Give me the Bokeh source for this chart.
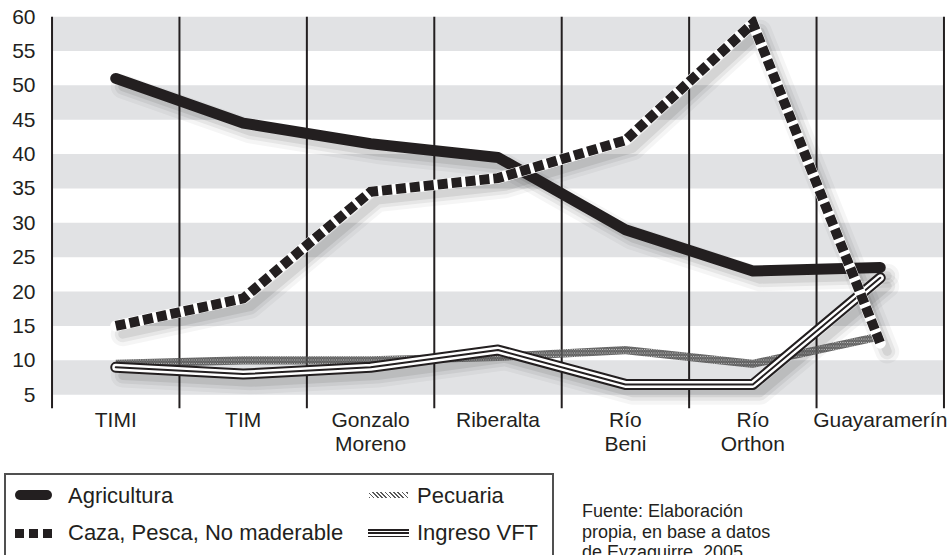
from bokeh.plotting import figure
from bokeh.models import ColumnDataSource, Range1d, FixedTicker, Span, BoxAnnotation, Div
from bokeh.layouts import column
from bokeh.transform import dodge
from bokeh.embed import file_html
from bokeh.resources import INLINE

# ---------------- data ----------------
categories = ["TIMI", "TIM", "Gonzalo\nMoreno", "Riberalta", "Río\nBeni", "Río\nOrthon", "Guayaramerín"]
agricultura = [51, 44.5, 41.5, 39.5, 29, 23, 23.5]
caza = [15, 19, 34.5, 36.5, 42, 59, 12.5]
pecuaria = [9.5, 10, 10, 10.5, 11.5, 9.5, 13.5]
ingreso = [9, 8, 9, 11.5, 6.5, 6.5, 22]
y_ticks = [5, 10, 15, 20, 25, 30, 35, 40, 45, 50, 55, 60]
gray_band_starts = [5, 15, 25, 35, 45, 55]
legend_labels = ["Agricultura", "Caza, Pesca, No maderable", "Pecuaria", "Ingreso VFT"]
source_lines = ["Fuente: Elaboración", "propia, en base a datos", "de Eyzaguirre, 2005"]

# ---------------- layout / style ----------------
FONT = "Liberation Sans"
INK = "#231f20"
BAND = "#e1e2e4"
W = 952
P_H, L_H = 466, 89               # chart height, legend strip height (total 555)
FL, FR, FT, FH = 50, 7, 16, 392  # frame borders / height (px)
X0, X1 = -0.012, len(categories) + 0.012
Y0, Y1 = 3, 60

xs = [i + 0.5 for i in range(len(categories))]
src = ColumnDataSource(dict(
    x=xs, agr=agricultura, caza=caza, pec=pecuaria, ing=ingreso,
    pec_lo=[v - 0.6 for v in pecuaria], pec_hi=[v + 0.6 for v in pecuaria],
))

p = figure(width=W, height=P_H, x_range=Range1d(X0, X1), y_range=Range1d(Y0, Y1),
           output_backend="svg", toolbar_location=None,
           min_border_left=FL, min_border_right=FR, min_border_top=FT,
           min_border_bottom=P_H - FT - FH)
p.outline_line_color = None
p.background_fill_color = "white"
p.border_fill_color = "white"
p.xgrid.visible = False
p.ygrid.visible = False

p.xaxis.ticker = FixedTicker(ticks=xs)
p.xaxis.major_label_overrides = {x: c for x, c in zip(xs, categories)}
p.yaxis.ticker = FixedTicker(ticks=y_ticks)
for ax in (p.xaxis, p.yaxis):
    ax.axis_line_color = None
    ax.major_tick_line_color = None
    ax.minor_tick_line_color = None
    ax.major_tick_out = 0
    ax.major_tick_in = 0
    ax.major_label_text_font = FONT
    ax.major_label_text_font_size = "21px"
    ax.major_label_text_color = INK
p.xaxis.major_label_text_line_height = 1.08
p.yaxis.major_label_standoff = 15
p.xaxis.major_label_standoff = -1

for b in gray_band_starts:
    p.add_layout(BoxAnnotation(bottom=b, top=b + 5, left=0, right=len(categories),
                               fill_color=BAND, fill_alpha=1, line_color=None, level="underlay"))
for i in range(len(categories) + 1):
    p.add_layout(Span(location=i, dimension="height", line_color=INK, line_width=2, level="underlay"))

# soft drop shadows (offset down-right)
for col in ["agr", "caza", "ing"]:
    for lw, la in ((24, 0.04), (16, 0.06), (9, 0.08)):
        p.line(x=dodge("x", 0.055), y=dodge(col, -1.2), source=src, line_color="black",
               line_alpha=la, line_width=lw, line_join="round", line_cap="round")

# Pecuaria: hatched band
p.varea(x="x", y1="pec_lo", y2="pec_hi", source=src, fill_alpha=0,
        hatch_pattern="left_diagonal_line", hatch_color="#555555", hatch_scale=3.5, hatch_weight=1.4)

# Agricultura
p.line("x", "agr", source=src, line_color=INK, line_width=11, line_cap="round", line_join="round")

# Ingreso VFT (triple line)
p.line("x", "ing", source=src, line_color=INK, line_width=11, line_cap="round", line_join="round")
p.line("x", "ing", source=src, line_color="white", line_width=7, line_cap="round", line_join="round")
p.line("x", "ing", source=src, line_color=INK, line_width=2, line_cap="round", line_join="round")

# Caza, Pesca, No maderable (black squares on white)
p.line("x", "caza", source=src, line_color="white", line_width=11, line_cap="round", line_join="round")
p.line("x", "caza", source=src, line_color=INK, line_width=10, line_dash="10 4", line_cap="butt", line_join="miter")


# ---------------- legend strip (HTML below the chart) ----------------
def el(left, top, width, height, style=""):
    return (f'<div style="position:absolute;left:{left}px;top:{top - P_H}px;'
            f'width:{width}px;height:{height}px;{style}"></div>')


def txt(left, baseline, text, size, lh):
    top = baseline - (lh - 1.117 * size) / 2 - 0.905 * size - P_H
    return (f'<div style="position:absolute;left:{left}px;top:{top:.1f}px;font-size:{size}px;'
            f'line-height:{lh}px;white-space:nowrap;">{text}</div>')


parts = []
parts.append(el(4, 473, 550, 200, "box-sizing:border-box;border:2px solid #505050;"))
parts.append(el(15, 490, 37, 10, f"background:{INK};border-radius:5px;"))
for qx in (15, 29, 43):
    parts.append(el(qx, 528.5, 9, 9, f"background:{INK};"))
parts.append(el(369, 492, 39, 6,
                "background:repeating-linear-gradient(45deg,#5a5a5a 0 1.2px,transparent 1.2px 3px);"))
parts.append(el(368, 529, 41, 8, f"background:{INK};"))
parts.append(el(368, 530.5, 41, 5, "background:white;"))
parts.append(el(368, 532.25, 41, 1.5, f"background:{INK};"))

for (lx, base), label in zip([(68, 504), (68, 541), (417, 504), (417, 541)], legend_labels):
    parts.append(txt(lx, base, label, 22, 26))
for k, line in enumerate(source_lines):
    parts.append(txt(582, 518 + 20.5 * k, line, 18, 21))

html = (f'<div style="position:relative;width:{W}px;height:{L_H}px;overflow:hidden;'
        f'font-family:\'{FONT}\',sans-serif;color:{INK};background:white;">'
        + "".join(parts) + "</div>")
legend = Div(text=html, width=W, height=L_H, margin=0)

layout = column(p, legend, spacing=0)
open("out.html", "w").write(file_html(layout, INLINE))
